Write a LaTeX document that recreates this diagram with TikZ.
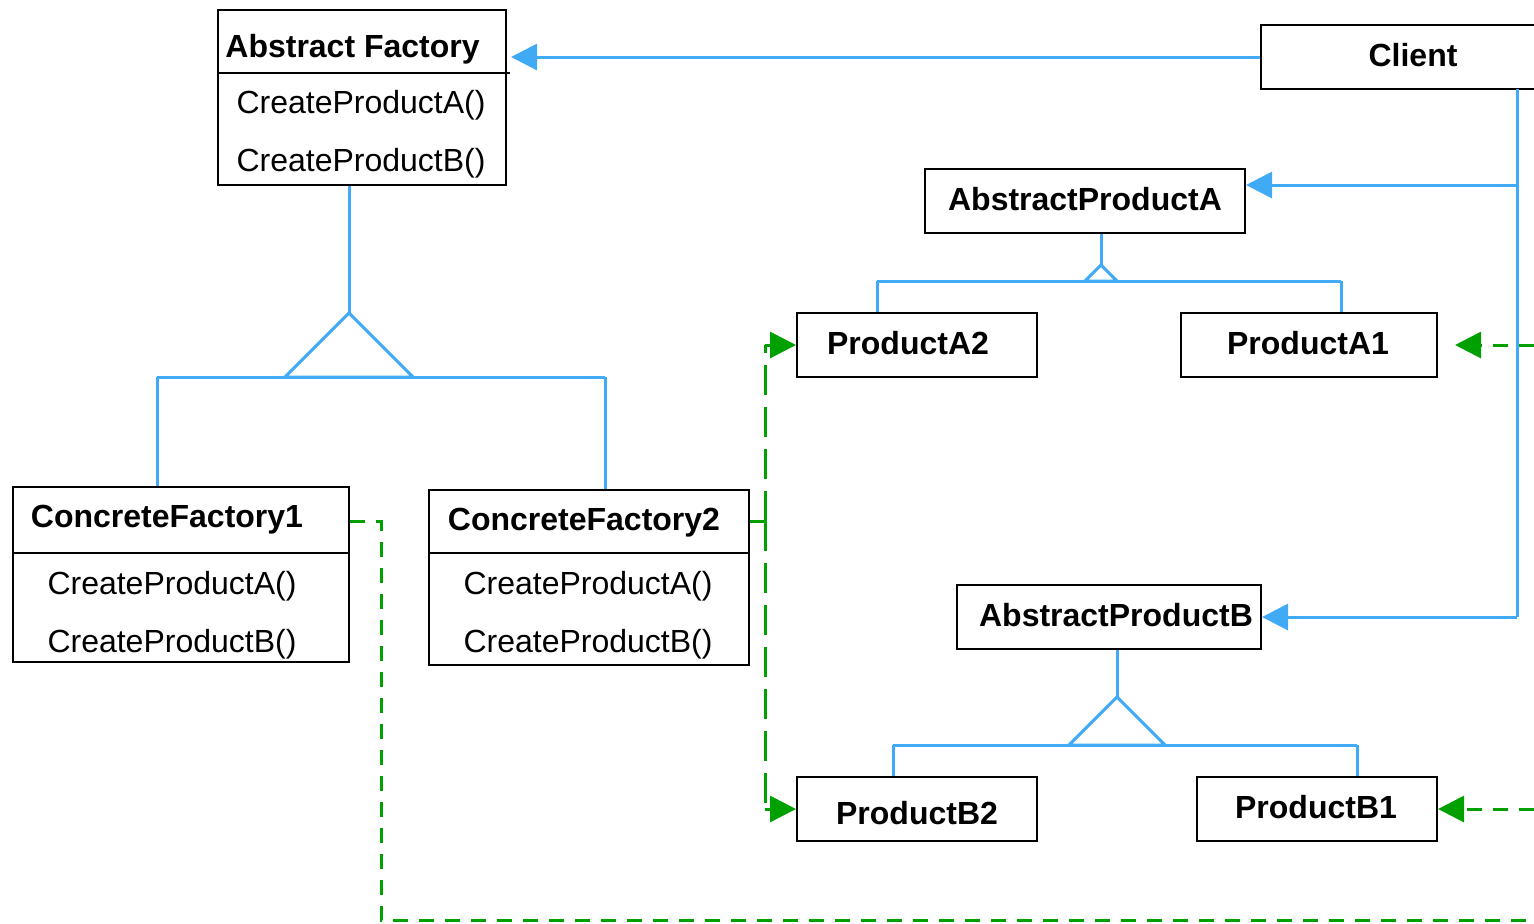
\documentclass[tikz,border=0pt]{standalone}
\usepackage{fontspec}
\setmainfont{Liberation Sans}
\usetikzlibrary{arrows.meta}
\definecolor{linkblue}{RGB}{64,170,245}
\definecolor{depgreen}{RGB}{0,160,0}
\begin{document}
\begin{tikzpicture}[x=0.5pt,y=-0.5pt,
  cls/.style 2 args={draw=black, line width=1pt, inner sep=0pt,
    minimum width=#1, minimum height=#2},
  txt/.style={inner sep=0pt, anchor=base, font=\fontsize{16}{19}\selectfont},
  ttl/.style={txt, font=\fontsize{16}{19}\selectfont\bfseries},
  assoc/.style={draw=linkblue, line width=1.5pt},
  assocarr/.style={assoc, -{Triangle[length=13pt,width=13pt]}},
  dep/.style={draw=depgreen, line width=1.5pt, dash pattern=on 7.5pt off 5.5pt},
  deparr/.style={dep, -{Triangle[length=13pt,width=13pt]}},
  deplong/.style={dep, dash pattern=on 15pt off 6pt}]
\clip (0,0) rectangle (1534,923);
\fill[white] (0,0) rectangle (1534,923);

% ---- class boxes ----
\node[cls={144pt}{87.5pt}] (af)   at (362,97.5) {};
\node[cls={152pt}{32pt}]   (cl)   at (1413,57) {};
\node[cls={160pt}{32pt}]   (apa)  at (1085,201) {};
\node[cls={120pt}{32pt}]   (pa2)  at (917,345) {};
\node[cls={128pt}{32pt}]   (pa1)  at (1309,345) {};
\node[cls={152pt}{32pt}]   (apb)  at (1109,617) {};
\node[cls={120pt}{32pt}]   (pb2)  at (917,809) {};
\node[cls={120pt}{32pt}]   (pb1)  at (1317,809) {};
\node[cls={168pt}{87.5pt}] (cf1)  at (181,574.5) {};
\node[cls={160pt}{87.5pt}] (cf2)  at (589,577.5) {};

% compartment separators
\draw[line width=1pt] (af.west |- 0,73) -- (510,73);
\draw[line width=1pt] (cf1.west |- 0,553) -- (cf1.east |- 0,553);
\draw[line width=1pt] (cf2.west |- 0,553) -- (cf2.east |- 0,553);

% ---- texts ----
\node[ttl, anchor=base west] (af-t) at (225,57) {Abstract Factory};
\node[txt] (af-a) at (361,113) {CreateProductA()};
\node[txt] (af-b) at (361,171) {CreateProductB()};
\node[ttl] (cl-t)  at (1413,66)  {Client};
\node[ttl] (apa-t) at (1085,210) {AbstractProductA};
\node[ttl] (pa2-t) at (908,354)  {ProductA2};
\node[ttl] (pa1-t) at (1308,354) {ProductA1};
\node[ttl] (apb-t) at (1116,626) {AbstractProductB};
\node[ttl] (pb2-t) at (917,824)  {ProductB2};
\node[ttl] (pb1-t) at (1316,818) {ProductB1};
\node[ttl] (cf1-t) at (167,527)  {ConcreteFactory1};
\node[txt] (cf1-a) at (172,594)  {CreateProductA()};
\node[txt] (cf1-b) at (172,652)  {CreateProductB()};
\node[ttl] (cf2-t) at (584,530)  {ConcreteFactory2};
\node[txt] (cf2-a) at (588,594)  {CreateProductA()};
\node[txt] (cf2-b) at (588,652)  {CreateProductB()};

% ---- client associations ----
\coordinate (ctrunk) at (1517,89);
\coordinate (ja) at (1517,185);
\coordinate (jb) at (1517,617);
\draw[assocarr] (cl.west) -- ([xshift=2pt]af.east |- cl.west);
\draw[assoc] (ctrunk) -- (jb);
\draw[assocarr] (ja) -- (apa.east |- ja);
\draw[assocarr] (jb) -- (apb.east);

% ---- factory inheritance ----
\coordinate (afapex) at (349,313);
\coordinate (afl) at (157,377);
\coordinate (afr) at (605,377);
\draw[assoc] (afapex |- af.south) -- (afapex);
\draw[assoc, line join=miter] (afapex) -- (285,377) -- (413,377) -- cycle;
\draw[assoc] (afl) -- (afr);
\draw[assoc] (afl) -- (afl |- cf1.north);
\draw[assoc] (afr) -- (afr |- cf2.north);

% ---- product A inheritance ----
\coordinate (paapex) at (1101,265);
\coordinate (pal) at (877,281);
\coordinate (par) at (1341,281);
\draw[assoc] (paapex |- apa.south) -- (paapex);
\draw[assoc] (paapex) -- (1085,281) -- (1117,281) -- cycle;
\draw[assoc] (pal) -- (par);
\draw[assoc] (pal) -- (pal |- pa2.north);
\draw[assoc] (par) -- (par |- pa1.north);

% ---- product B inheritance ----
\coordinate (pbapex) at (1117,697);
\coordinate (pbl) at (893,745);
\coordinate (pbr) at (1357,745);
\draw[assoc] (pbapex |- apb.south) -- (pbapex);
\draw[assoc] (pbapex) -- (1069,745) -- (1165,745) -- cycle;
\draw[assoc] (pbl) -- (pbr);
\draw[assoc] (pbl) -- (pbl |- pb2.north);
\draw[assoc] (pbr) -- (pbr |- pb1.north);

% ---- creation dependencies ----
\coordinate (d1) at (381,521);
\coordinate (d1end) at (1560,920);
\draw[dep] (d1 -| cf1.east) -- (d1) |- (d1end);
\coordinate (ra) at (1560,345);
\coordinate (rb) at (1560,809);
\draw[deparr] (ra) -- ([xshift=8.5pt]pa1.east);
\draw[deparr] (rb) -- (pb1.east);
\coordinate (d2) at (765,521);
\draw[dep] (d2 -| cf2.east) -- (d2);
\draw[deplong] (d2) -- (d2 |- pa2.west);
\draw[deplong] (d2) -- (d2 |- pb2.west);
\draw[deparr] (d2 |- pa2.west) -- (pa2.west);
\draw[deparr] (d2 |- pb2.west) -- (pb2.west);
\end{tikzpicture}
\end{document}
